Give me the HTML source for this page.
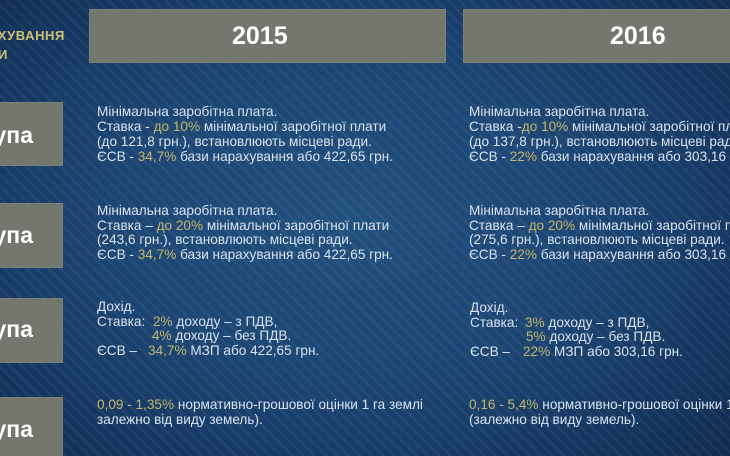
<!DOCTYPE html>
<html><head><meta charset="utf-8">
<style>
html,body{margin:0;padding:0;}
body{width:730px;height:456px;overflow:hidden;position:relative;background:#163a63;}
#wrap{position:absolute;left:0;top:0;width:730px;height:456px;overflow:hidden;
background:radial-gradient(ellipse 75% 80% at 48% 48%, #22507f 0%, #1c4573 45%, #143660 75%, #0f2a4b 100%);
font-family:"Liberation Sans","DejaVu Sans",sans-serif;}
.stripes{position:absolute;left:0;top:0;width:730px;height:456px;
background:repeating-linear-gradient(45deg, rgba(255,255,255,0) 0px, rgba(255,255,255,0) 6px, rgba(255,255,255,0.05) 6px, rgba(255,255,255,0.05) 8px);}
.box{position:absolute;background:#73776e;box-shadow:inset 0 0 0 1px rgba(255,255,255,0.08);}
.yr{position:absolute;color:#fff;font-weight:bold;font-size:25px;line-height:25px;white-space:nowrap;}
.grp{position:absolute;left:-67px;width:100px;text-align:right;color:#fff;font-weight:bold;font-size:23px;line-height:23px;white-space:nowrap;}
.hl{position:absolute;color:#d2c173;font-weight:bold;font-size:13px;letter-spacing:0.6px;line-height:14px;white-space:nowrap;text-align:right;width:200px;}
.t{position:absolute;color:#d7e3ef;font-size:13.6px;white-space:nowrap;}
.g{color:#c6b66c;}
.ln{position:relative;}
.ln span.a{position:absolute;top:0;}
</style></head><body>
<div id="wrap">
<div class="stripes"></div>

<div class="hl" style="left:-135px;top:29px;">НАРАХУВАННЯ</div>
<div class="hl" style="left:-192px;top:48px;">СТАВКИ</div>

<div class="box" style="left:89px;top:9px;width:357px;height:54px;"></div>
<div class="box" style="left:463px;top:9px;width:280px;height:54px;"></div>
<div class="yr" style="left:232px;top:23.5px;">2015</div>
<div class="yr" style="left:610px;top:23.5px;">2016</div>

<div class="box" style="left:-5px;top:102px;width:68px;height:64px;"></div>
<div class="box" style="left:-5px;top:203px;width:68px;height:65px;"></div>
<div class="box" style="left:-5px;top:298px;width:68px;height:65px;"></div>
<div class="box" style="left:-5px;top:397px;width:68px;height:70px;"></div>
<div class="grp" style="top:124px;">група</div>
<div class="grp" style="top:224px;">група</div>
<div class="grp" style="top:318px;">група</div>
<div class="grp" style="top:418px;">група</div>

<div class="t" style="left:97px;top:103.5px;line-height:15px;">
Мінімальна заробітна плата.<br>
Ставка - <span class="g">до 10%</span> мінімальної заробітної плати<br>
(до 121,8 грн.), встановлюють місцеві ради.<br>
ЄСВ - <span class="g">34,7%</span> бази нарахування або 422,65 грн.
</div>
<div class="t" style="left:469px;top:103.5px;line-height:15px;">
Мінімальна заробітна плата.<br>
Ставка -<span class="g">до 10%</span> мінімальної заробітної плати<br>
(до 137,8 грн.), встановлюють місцеві ради.<br>
ЄСВ - <span class="g">22%</span> бази нарахування або 303,16 грн.
</div>

<div class="t" style="left:97px;top:204px;line-height:14.6px;">
Мінімальна заробітна плата.<br>
Ставка – <span class="g">до 20%</span> мінімальної заробітної плати<br>
(243,6 грн.), встановлюють місцеві ради.<br>
ЄСВ - <span class="g">34,7%</span> бази нарахування або 422,65 грн.
</div>
<div class="t" style="left:469px;top:204px;line-height:14.6px;">
Мінімальна заробітна плата.<br>
Ставка – <span class="g">до 20%</span> мінімальної заробітної плати<br>
(275,6 грн.), встановлюють місцеві ради.<br>
ЄСВ - <span class="g">22%</span> бази нарахування або 303,16 грн.
</div>

<div class="t" style="left:97px;top:300px;line-height:14.6px;">
<div class="ln">Дохід.</div>
<div class="ln">Ставка:<span class="a" style="left:56px;"><span class="g">2%</span> доходу – з ПДВ,</span></div>
<div class="ln">&nbsp;<span class="a" style="left:55px;"><span class="g">4%</span> доходу – без ПДВ.</span></div>
<div class="ln">ЄСВ –<span class="a" style="left:51px;"><span class="g">34,7%</span> МЗП або 422,65 грн.</span></div>
</div>
<div class="t" style="left:470px;top:301px;line-height:14.6px;">
<div class="ln">Дохід.</div>
<div class="ln">Ставка:<span class="a" style="left:55px;"><span class="g">3%</span> доходу – з ПДВ,</span></div>
<div class="ln">&nbsp;<span class="a" style="left:56px;"><span class="g">5%</span> доходу – без ПДВ.</span></div>
<div class="ln">ЄСВ –<span class="a" style="left:53px;"><span class="g">22%</span> МЗП або 303,16 грн.</span></div>
</div>

<div class="t" style="left:97px;top:397px;line-height:15px;">
<span class="g">0,09 - 1,35%</span> нормативно-грошової оцінки 1 га землі<br>
залежно від виду земель).
</div>
<div class="t" style="left:469px;top:397px;line-height:15px;">
<span class="g">0,16 - 5,4%</span> нормативно-грошової оцінки 1 га землі<br>
(залежно від виду земель).
</div>
</div>
</body></html>
